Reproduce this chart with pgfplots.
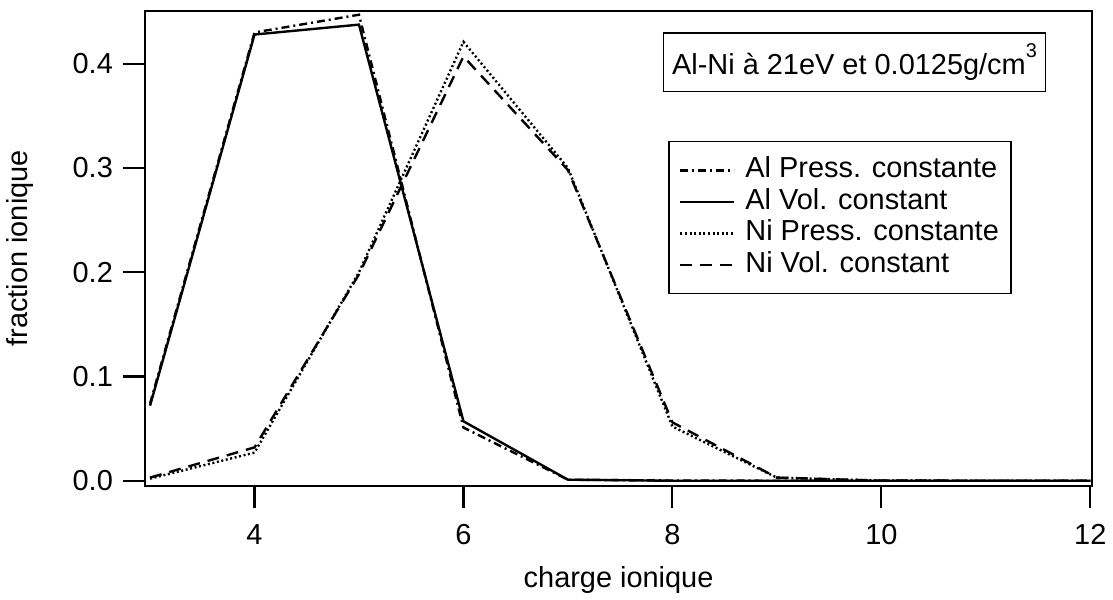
\documentclass[border=0pt]{standalone}
\usepackage{pgfplots}
\pgfplotsset{compat=1.18}
\usepackage{fontspec}
\setmainfont{Liberation Sans}
\begin{document}
\begin{tikzpicture}
\begin{axis}[
  scale only axis,
  width=475pt, height=238pt,
  xmin=2.95, xmax=12.02,
  ymin=-0.0048, ymax=0.4506,
  axis line style={line width=1.1pt},
  font=\fontsize{14.5}{17}\selectfont,
  /pgf/number format/assume math mode=true,
  xtick={4,6,8,10,12},
  ytick={0,0.1,0.2,0.3,0.4},
  yticklabel style={/pgf/number format/fixed,/pgf/number format/fixed zerofill,/pgf/number format/precision=1, xshift=-1.5pt},
  xticklabel style={yshift=-5pt},
  tick align=outside,
  tick pos=left,
  major tick length=11pt,
  tick style={line width=1.1pt, black},
  xlabel={charge ionique},
  ylabel={fraction ionique},
  every axis x label/.style={at={(rel axis cs:0.5,-0.198)}, anchor=center},
  every axis y label/.style={at={(rel axis cs:-0.1316,0.5)}, rotate=90, anchor=center},
  legend style={at={(rel axis cs:0.7337,0.5647)}, anchor=center, draw=black, line width=0.8pt,
    inner xsep=5pt, inner ysep=6.5pt, column sep=4pt,
    nodes={inner sep=1pt, text height=10.5pt, text depth=3.3pt, anchor=west}},
  legend cell align=left,
  legend image code/.code={\draw[#1] (0pt,0pt) -- (27pt,0pt);},
  clip=false,
]
\addplot[black, line width=1.2pt, dash pattern=on 4pt off 2pt on 1pt off 2pt] coordinates {
 (3,0.074)(4,0.430)(5,0.447)(6,0.051)(7,0.001)(8,0.0002)(9,0)(10,0)(11,0)(12,0)};
\addlegendentry{Al Press. constante}
\addplot[black, line width=1.2pt] coordinates {
 (3,0.072)(4,0.428)(5,0.4375)(6,0.057)(7,0.001)(8,0)(9,0)(10,0)(11,0)(12,0)};
\addlegendentry{Al Vol. constant}
\addplot[black, line width=1.2pt, dash pattern=on 1pt off 1.3pt] coordinates {
 (3,0.002)(4,0.027)(5,0.2)(6,0.421)(7,0.3)(8,0.052)(9,0.003)(10,0.0001)(11,0)(12,0)};
\addlegendentry{Ni Press. constante}
\addplot[black, line width=1.2pt, dash pattern=on 6pt off 4pt] coordinates {
 (3,0.003)(4,0.032)(5,0.198)(6,0.407)(7,0.298)(8,0.056)(9,0.003)(10,0.0001)(11,0)(12,0)};
\addlegendentry{Ni Vol. constant}
\node[draw=black, line width=0.8pt, minimum width=191.5pt, minimum height=29.5pt, inner sep=2pt]
  at (rel axis cs:0.749,0.892) {Al-Ni à 21eV et 0.0125g/cm\raisebox{1.1ex}{\fontsize{10}{12}\selectfont 3}};
\coordinate (O) at (rel axis cs:0,0);
\end{axis}
\path (O) ++(-72.5pt,-54.5pt) rectangle ++(556.5pt,298pt);
\end{tikzpicture}
\end{document}
